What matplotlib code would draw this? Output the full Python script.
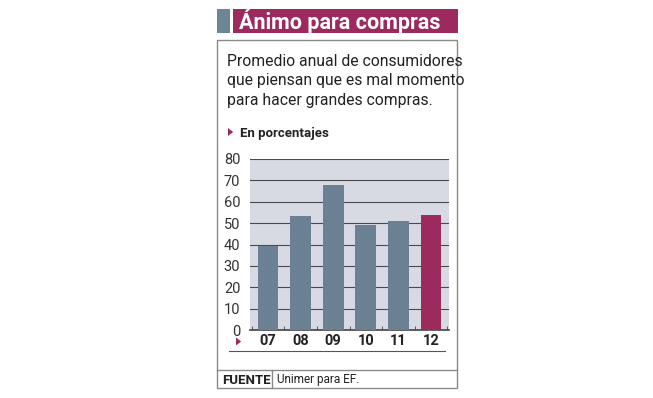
import matplotlib
matplotlib.use("Agg")
import matplotlib.pyplot as plt
from matplotlib.patches import Rectangle, Polygon
from matplotlib.lines import Line2D
import matplotlib.font_manager as fm

W, H = 653, 398
categories = ["07", "08", "09", "10", "11", "12"]
values = [39.5, 53.5, 68, 49, 51, 54]
yticks = [0, 10, 20, 30, 40, 50, 60, 70, 80]

title = "Ánimo para compras"
subtitle = ["Promedio anual de consumidores",
            "que piensan que es mal momento",
            "para hacer grandes compras."]
unit_label = "En porcentajes"
source_label = "FUENTE"
source_text = "Unimer para EF."

names = {f.name for f in fm.fontManager.ttflist}
narrow = "Liberation Sans Narrow" if "Liberation Sans Narrow" in names else "Roboto"
body = "Roboto"

BAR = "#6b8193"
HIL = "#9c2a5e"
BG = "#d7dae2"
FRAME = "#8a8a8a"

fig = plt.figure(figsize=(W / 100, H / 100), dpi=100)
fig.patch.set_facecolor("white")

def fx(x):
    return x / W

def fy(y):
    return 1 - y / H

def rect(x0, y0, x1, y1, **kw):
    fig.add_artist(Rectangle((fx(x0), fy(y1)), fx(x1) - fx(x0), fy(y0) - fy(y1),
                             transform=fig.transFigure, **kw))

def line(x0, y0, x1, y1, **kw):
    fig.add_artist(Line2D([fx(x0), fx(x1)], [fy(y0), fy(y1)], transform=fig.transFigure, **kw))

def tri(x, y, s=4, color=HIL):
    fig.add_artist(Polygon([(fx(x), fy(y - s)), (fx(x), fy(y + s)), (fx(x + s * 1.3), fy(y))],
                           closed=True, transform=fig.transFigure, color=color, lw=0))

# header
rect(217, 9, 230, 33, color="#6d8594", lw=0)
rect(233, 9, 458, 33, color=HIL, lw=0)
fig.text(fx(239), fy(21.5), title, color="white", fontsize=15.5, fontweight="bold",
         family=narrow, va="center", ha="left")

# frame
rect(217, 40, 457, 388, facecolor="none", edgecolor=FRAME, lw=1.0)
line(217, 369.5, 457, 369.5, color=FRAME, lw=1.0)
line(272, 369.5, 272, 388, color=FRAME, lw=1.0)

for i, s in enumerate(subtitle):
    fig.text(fx(227), fy(61 + i * 19.5), s, fontsize=11.3, family=body, color="#222222",
             va="center", ha="left")

tri(228, 132)
fig.text(fx(240), fy(134), unit_label, fontsize=9.5, fontweight="bold", family=narrow,
         color="#222222", va="center", ha="left")

fig.text(fx(222), fy(380), source_label, fontsize=9.5, fontweight="bold", family=body,
         color="#222222", va="center", ha="left")
fig.text(fx(277), fy(380), source_text, fontsize=8.5, family=narrow,
         color="#222222", va="center", ha="left")

# chart
ax = fig.add_axes([fx(250), fy(330), fx(449) - fx(250), fy(159) - fy(330)])
ax.set_facecolor(BG)
x = list(range(len(categories)))
colors = [BAR] * (len(categories) - 1) + [HIL]
ax.bar(x, values, width=0.64, color=colors, zorder=3)
ax.set_xlim(-0.55, len(categories) - 0.45)
ax.set_ylim(0, 80)
ax.set_yticks(yticks)
ax.set_yticklabels([str(v) for v in yticks], fontsize=10.5, family=body, color="#333333")
ax.yaxis.grid(True, color="#4a4a4a", lw=0.8, zorder=1)
ax.tick_params(axis="y", length=0, pad=7)
ax.set_xticks(x)
ax.set_xticklabels(categories, fontsize=10.5, fontweight="bold", family=body, color="#222222")
ax.tick_params(axis="x", length=0, pad=3)
ax.set_xticks([i + 0.5 for i in range(-1, len(categories))], minor=True)
ax.tick_params(axis="x", which="minor", direction="in", length=3, color="#444444")
for sp in ["top", "right", "left"]:
    ax.spines[sp].set_visible(False)
ax.spines["bottom"].set_color("#444444")
ax.spines["bottom"].set_linewidth(1.2)

tri(236, 341.5, s=4)
line(229, 350.5, 445, 350.5, color="#555555", lw=0.8)

fig.savefig("out.png", dpi=100)
